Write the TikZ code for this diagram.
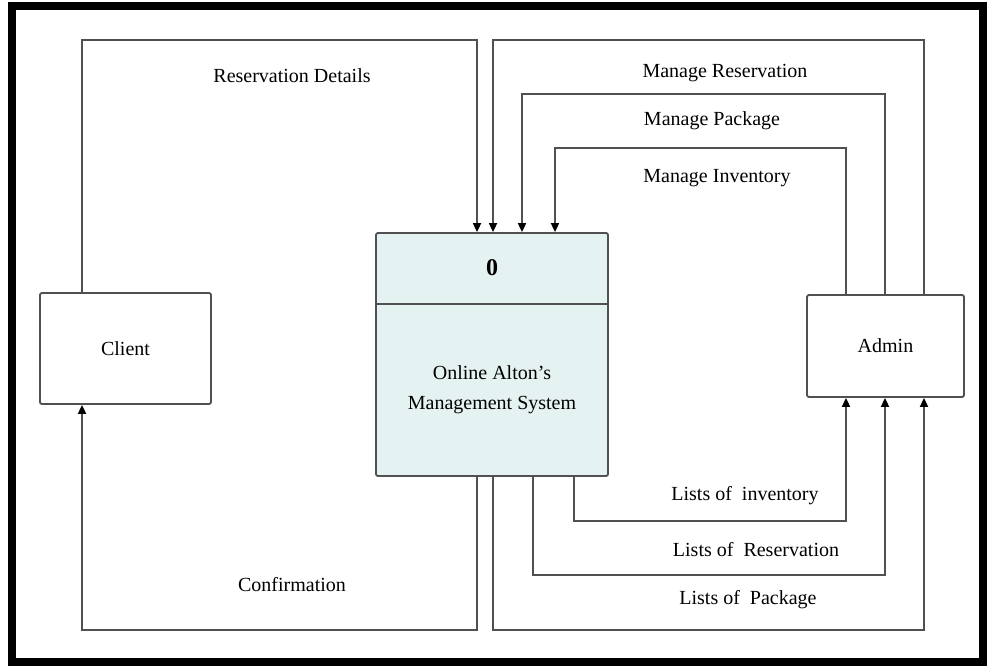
\documentclass[tikz,border=0pt]{standalone}
\usepackage{fontspec}
\setmainfont{Liberation Serif}
\usetikzlibrary{arrows.meta}
\definecolor{linegray}{HTML}{505050}
\definecolor{procfill}{HTML}{E4F2F1}
\begin{document}
\begin{tikzpicture}[x=1pt,y=-1pt,
  line join=miter,
  wire/.style={draw=linegray, line width=1.8pt},
  flow/.style={wire, -{Triangle[length=9pt,width=8pt,color=black]}},
  entity/.style={draw=linegray, line width=1.8pt, rounded corners=2pt, fill=white,
    inner sep=0pt, font=\fontsize{20}{24}\selectfont},
  lbl/.style={font=\fontsize{20}{24}\selectfont, inner sep=0pt}]
\useasboundingbox (0,0) rectangle (990,666);

% heavy outer frame
\draw[line width=8pt] (12,6) rectangle (983,662);

% external entities and the process
\node[entity, minimum width=171pt, minimum height=111pt] (client) at (125.5,348.5) {Client};
\node[entity, minimum width=157pt, minimum height=102pt] (admin) at (885.5,346) {Admin};
\node[entity, fill=procfill, minimum width=232pt, minimum height=243pt] (proc) at (492,354.5) {};
\coordinate (divL) at (376,304);
\draw[wire] (divL) -- (divL -| proc.east);
\node[lbl, font=\fontsize{24}{28}\selectfont\bfseries] (pnum) at (492,268) {0};
\node[lbl, align=center, font=\fontsize{20}{30}\selectfont] (pname) at (492,390)
  {Online Alton's\\Management System};

% bend points of the flows
\coordinate (rdC) at (477,40);   \coordinate (cliT) at (82,40);
\coordinate (cfC) at (477,630);  \coordinate (cliB) at (82,630);
\coordinate (mrR) at (924,40);   \coordinate (mrL) at (493,40);
\coordinate (mpR) at (885,94);   \coordinate (mpL) at (522,94);
\coordinate (miR) at (846,148);  \coordinate (miL) at (555,148);
\coordinate (liL) at (574,521);  \coordinate (liR) at (846,521);
\coordinate (lrL) at (533,575);  \coordinate (lrR) at (885,575);
\coordinate (lpL) at (493,630);  \coordinate (lpR) at (924,630);

% client flows
\draw[flow] (client.north -| cliT) -- (cliT) -- (rdC) -- (proc.north -| rdC);
\draw[flow] (proc.south -| cfC) -- (cfC) -- (cliB) -- (client.south -| cliB);

% admin to process
\draw[flow] (admin.north -| mrR) -- (mrR) -- (mrL) -- (proc.north -| mrL);
\draw[flow] (admin.north -| mpR) -- (mpR) -- (mpL) -- (proc.north -| mpL);
\draw[flow] (admin.north -| miR) -- (miR) -- (miL) -- (proc.north -| miL);

% process to admin
\draw[flow] (proc.south -| liL) -- (liL) -- (liR) -- (admin.south -| liR);
\draw[flow] (proc.south -| lrL) -- (lrL) -- (lrR) -- (admin.south -| lrR);
\draw[flow] (proc.south -| lpL) -- (lpL) -- (lpR) -- (admin.south -| lpR);

% flow labels
\node[lbl] (tRD) at (292,76) {Reservation Details};
\node[lbl] (tCF) at (292,585) {Confirmation};
\node[lbl] (tMR) at (725,73) {Manage Reservation};
\node[lbl] (tMP) at (712,121) {Manage Package};
\node[lbl] (tMI) at (717,178) {Manage Inventory};
\node[lbl] (tLI) at (745,496) {Lists of\ \ inventory};
\node[lbl] (tLR) at (756,550) {Lists of\ \ Reservation};
\node[lbl] (tLP) at (748,600) {Lists of\ \ Package};
\end{tikzpicture}
\end{document}
